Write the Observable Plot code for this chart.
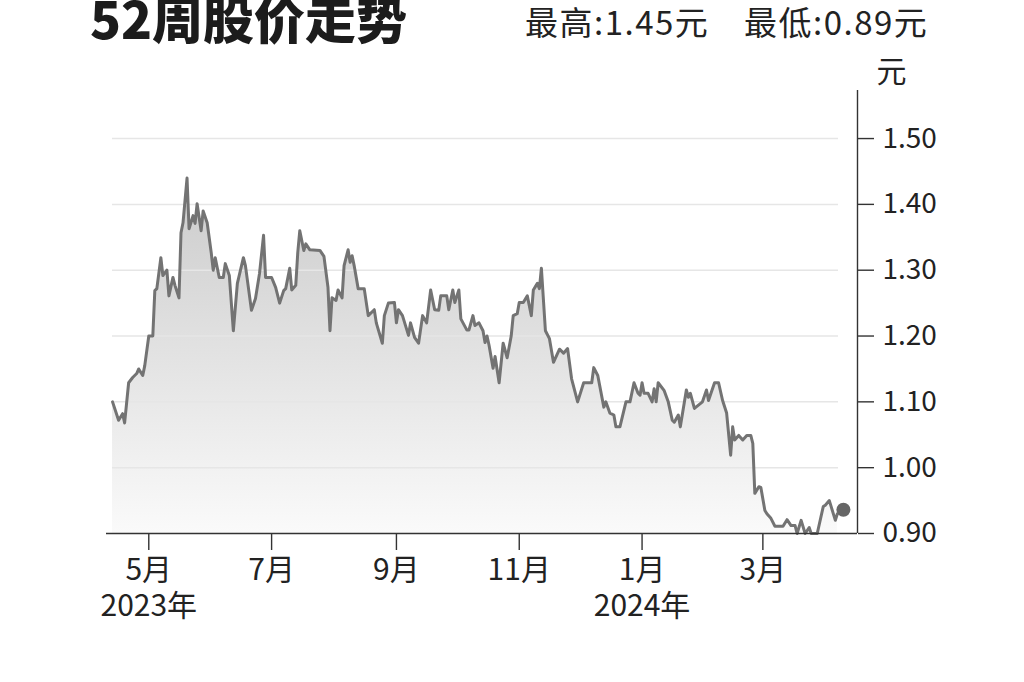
<!DOCTYPE html>
<html>
<head>
<meta charset="utf-8">
<script src="https://cdn.jsdelivr.net/npm/d3@7"></script>
<script src="https://cdn.jsdelivr.net/npm/@observablehq/plot@0.6"></script>
<style>
  body { margin: 0; background: #fff; }
  #header, #chart svg { display: block; }
</style>
</head>
<body>
<svg id="header" width="1024" height="50">
  <text x="90" y="39" font-size="51" font-weight="900" font-family="'Noto Sans CJK SC', sans-serif" fill="#1c1c1c">52周股价走势</text>
  <text id="hi" x="525" y="35" font-size="33" letter-spacing="1.5" font-family="'Liberation Sans Narrow', 'Noto Sans CJK SC', sans-serif" fill="#222"></text>
  <text id="lo" x="744" y="35" font-size="33" letter-spacing="1.5" font-family="'Liberation Sans Narrow', 'Noto Sans CJK SC', sans-serif" fill="#222"></text>
</svg>
<div id="chart"></div>
<script>
// ---- data ----
const dates = [
  "2023-04-13","2023-04-16","2023-04-18","2023-04-19","2023-04-21","2023-04-23","2023-04-25","2023-04-26","2023-04-28","2023-04-29",
  "2023-05-01","2023-05-03","2023-05-04","2023-05-05","2023-05-07","2023-05-08","2023-05-10","2023-05-11","2023-05-13","2023-05-14",
  "2023-05-16","2023-05-17","2023-05-18","2023-05-20","2023-05-21","2023-05-23","2023-05-24","2023-05-25","2023-05-27","2023-05-28",
  "2023-05-30","2023-06-01","2023-06-02","2023-06-03","2023-06-05","2023-06-07","2023-06-08","2023-06-10","2023-06-12","2023-06-14",
  "2023-06-17","2023-06-18","2023-06-21","2023-06-23","2023-06-25","2023-06-27","2023-06-28","2023-07-01","2023-07-03","2023-07-05",
  "2023-07-07","2023-07-08","2023-07-10","2023-07-11","2023-07-13","2023-07-14","2023-07-15","2023-07-17","2023-07-18","2023-07-20",
  "2023-07-25","2023-07-27","2023-07-29","2023-07-30","2023-07-31","2023-08-02","2023-08-03","2023-08-05","2023-08-06","2023-08-08",
  "2023-08-09","2023-08-10","2023-08-11","2023-08-13","2023-08-16","2023-08-18","2023-08-21","2023-08-22","2023-08-25","2023-08-26",
  "2023-08-28","2023-08-31","2023-09-01","2023-09-02","2023-09-04","2023-09-07","2023-09-08","2023-09-10","2023-09-12","2023-09-14",
  "2023-09-16","2023-09-18","2023-09-20","2023-09-22","2023-09-23","2023-09-26","2023-09-27","2023-09-29","2023-09-30","2023-10-02",
  "2023-10-03","2023-10-06","2023-10-07","2023-10-09","2023-10-10","2023-10-12","2023-10-14","2023-10-15","2023-10-16","2023-10-17",
  "2023-10-19","2023-10-20","2023-10-22","2023-10-24","2023-10-26","2023-10-28","2023-10-29","2023-10-31","2023-11-01","2023-11-03",
  "2023-11-05","2023-11-07","2023-11-08","2023-11-10","2023-11-11","2023-11-12","2023-11-14","2023-11-16","2023-11-18","2023-11-21",
  "2023-11-23","2023-11-25","2023-11-27","2023-11-30","2023-12-03","2023-12-07","2023-12-08","2023-12-10","2023-12-13","2023-12-14",
  "2023-12-16","2023-12-18","2023-12-19","2023-12-21","2023-12-24","2023-12-26","2023-12-28","2023-12-30","2023-12-31","2024-01-01",
  "2024-01-02","2024-01-04","2024-01-06","2024-01-07","2024-01-08","2024-01-09","2024-01-12","2024-01-14","2024-01-16","2024-01-17",
  "2024-01-19","2024-01-20","2024-01-23","2024-01-24","2024-01-25","2024-01-27","2024-01-29","2024-01-31","2024-02-02","2024-02-03",
  "2024-02-06","2024-02-08","2024-02-10","2024-02-12","2024-02-14","2024-02-15","2024-02-16","2024-02-18","2024-02-20","2024-02-22",
  "2024-02-24","2024-02-25","2024-02-26","2024-02-28","2024-02-29","2024-03-02","2024-03-03","2024-03-05","2024-03-07","2024-03-11",
  "2024-03-13","2024-03-15","2024-03-17","2024-03-18","2024-03-20","2024-03-22","2024-03-24","2024-03-25","2024-03-28","2024-03-31",
  "2024-04-01","2024-04-03","2024-04-04","2024-04-06","2024-04-07"
];
const prices = [
  1.100,1.072,1.082,1.068,1.129,1.137,1.143,1.150,1.140,1.155,
  1.200,1.200,1.269,1.272,1.319,1.292,1.300,1.261,1.289,1.277,
  1.258,1.357,1.372,1.440,1.363,1.383,1.371,1.401,1.360,1.390,
  1.372,1.327,1.300,1.319,1.289,1.289,1.310,1.292,1.208,1.280,
  1.319,1.307,1.239,1.257,1.295,1.353,1.289,1.289,1.274,1.250,
  1.269,1.272,1.303,1.270,1.277,1.327,1.360,1.330,1.340,1.331,
  1.330,1.321,1.274,1.208,1.258,1.254,1.270,1.258,1.307,1.331,
  1.312,1.322,1.307,1.272,1.272,1.231,1.240,1.220,1.189,1.231,
  1.250,1.251,1.220,1.240,1.231,1.201,1.220,1.198,1.189,1.231,
  1.220,1.270,1.240,1.239,1.261,1.261,1.240,1.270,1.251,1.270,
  1.226,1.209,1.209,1.231,1.216,1.220,1.208,1.190,1.200,1.186,
  1.151,1.169,1.129,1.189,1.167,1.200,1.231,1.234,1.251,1.251,
  1.261,1.231,1.270,1.280,1.272,1.303,1.208,1.196,1.160,1.180,
  1.174,1.181,1.135,1.100,1.129,1.129,1.152,1.140,1.092,1.100,
  1.083,1.080,1.062,1.062,1.100,1.100,1.129,1.113,1.110,1.129,
  1.113,1.113,1.100,1.120,1.100,1.129,1.117,1.100,1.072,1.069,
  1.080,1.062,1.118,1.107,1.113,1.090,1.095,1.100,1.118,1.102,
  1.129,1.129,1.102,1.083,1.019,1.062,1.042,1.049,1.042,1.049,
  1.049,1.037,0.961,0.971,0.970,0.935,0.930,0.923,0.911,0.911,
  0.921,0.912,0.912,0.900,0.920,0.900,0.909,0.900,0.900,0.941,
  0.943,0.950,0.940,0.920,0.930
];
const lastDates = ["2024-04-10"];
const lastPrices = [0.936];
const yTicks = [0.9, 1.0, 1.1, 1.2, 1.3, 1.4, 1.5];
const gridValues = [1.0, 1.1, 1.2, 1.3, 1.4, 1.5];
const monthTicks = ["2023-05-01","2023-07-01","2023-09-01","2023-11-01","2024-01-01","2024-03-01"];
const yearTicks = ["2023-05-01","2024-01-01"];
const xDomain = ["2023-04-10","2024-04-17"];
const yDomain = [0.9, 1.573];
const unitLabel = ["元"];
const highText = "最高:1.45元";
const lowText = "最低:0.89元";

document.getElementById("hi").textContent = highText;
document.getElementById("lo").textContent = lowText;

const data = dates.map((d, i) => ({date: new Date(d), price: prices[i]}));
const last = lastDates.map((d, i) => ({date: new Date(d), price: lastPrices[i]}));
const narrow = "'Liberation Sans Narrow', 'Noto Sans CJK SC', sans-serif";

const chart = Plot.plot({
  width: 1024,
  height: 632,
  marginLeft: 106,
  marginRight: 167,
  marginTop: 40,
  marginBottom: 149,
  x: {type: "utc", domain: xDomain.map(d => new Date(d))},
  y: {domain: yDomain},
  style: {fontFamily: narrow, color: "#222", background: "transparent", overflow: "visible"},
  marks: [
    Plot.areaY(data, {x: "date", y1: yDomain[0], y2: "price", fill: "url(#areaGrad)"}),
    Plot.ruleY(gridValues, {stroke: "#e6e6e6", strokeWidth: 1.5, insetLeft: 6, insetRight: 19}),
    Plot.lineY(data, {x: "date", y: "price", stroke: "#737373", strokeWidth: 3, strokeLinejoin: "round", strokeLinecap: "round"}),
    Plot.dot(last, {x: "date", y: "price", r: 7, fill: "#666", stroke: "none"}),
    Plot.ruleY([yDomain[0]], {stroke: "#333", strokeWidth: 1.4}),
    Plot.ruleX([new Date(xDomain[1])], {stroke: "#333", strokeWidth: 1.4}),
    Plot.axisY(yTicks, {anchor: "right", tickSize: 16, tickPadding: 9, tickFormat: d => d.toFixed(2), fontSize: 28, label: null, stroke: "#333", strokeWidth: 1.4}),
    Plot.axisX(monthTicks.map(d => new Date(d)), {anchor: "bottom", tickSize: 17, tickPadding: 8, tickFormat: d => `${d.getUTCMonth() + 1}月`, fontSize: 30, label: null, stroke: "#333", strokeWidth: 1.4}),
    Plot.axisX(yearTicks.map(d => new Date(d)), {anchor: "bottom", tickSize: 0, tickPadding: 61, tickFormat: d => `${d.getUTCFullYear()}年`, fontSize: 30, label: null}),
    Plot.text(unitLabel, {frameAnchor: "top-right", textAnchor: "middle", dx: 34, dy: -30, fontSize: 30, text: d => d, fill: "#222"})
  ]
});

const defs = document.createElementNS("http://www.w3.org/2000/svg", "defs");
defs.innerHTML = '<linearGradient id="areaGrad" x1="0" y1="0" x2="0" y2="1"><stop offset="0" stop-color="#cbcbcb"/><stop offset="1" stop-color="#fafafa"/></linearGradient>';
chart.prepend(defs);
document.getElementById("chart").appendChild(chart);
</script>
</body>
</html>
